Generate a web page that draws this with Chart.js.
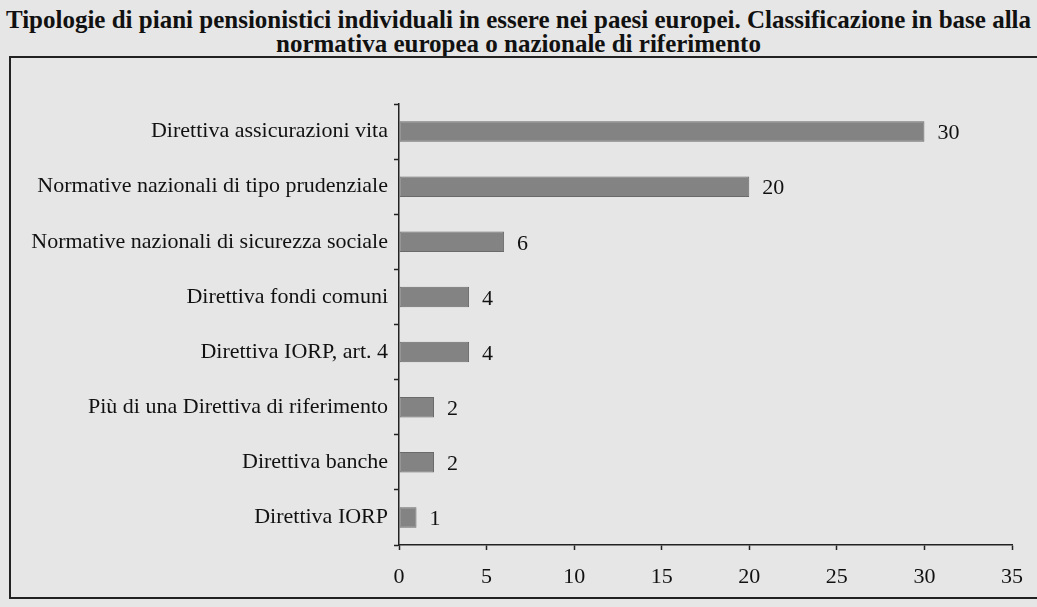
<!DOCTYPE html>
<html>
<head>
<meta charset="utf-8">
<script src="https://cdn.jsdelivr.net/npm/chart.js@4"></script>
<style>
  html, body { margin: 0; padding: 0; }
  body { width: 1037px; height: 607px; background: #e6e6e6; position: relative; overflow: hidden; font-family: "Liberation Serif", serif; }
  #title { position: absolute; left: 0; top: 8px; width: 1037px; text-align: center; font-weight: bold; font-size: 25px; line-height: 24px; color: #111; }
  #box { position: absolute; left: 9px; top: 56px; width: 1040px; height: 539px; border: 2px solid #222; }
  #wrap { position: absolute; left: 0; top: 0; width: 1037px; height: 607px; }
</style>
</head>
<body>
<div id="title">Tipologie di piani pensionistici individuali in essere nei paesi europei. Classificazione in base alla<br>normativa europea o nazionale di riferimento</div>
<div id="box"></div>
<div id="wrap"><canvas id="chart"></canvas></div>
<script>
const categories = [
  'Direttiva assicurazioni vita',
  'Normative nazionali di tipo prudenziale',
  'Normative nazionali di sicurezza sociale',
  'Direttiva fondi comuni',
  'Direttiva IORP, art. 4',
  'Più di una Direttiva di riferimento',
  'Direttiva banche',
  'Direttiva IORP'
];
const values = [30, 20, 6, 4, 4, 2, 2, 1];
const xTicks = [0, 5, 10, 15, 20, 25, 30, 35];

// etichette con il valore a destra di ogni barra
const valueLabels = {
  id: 'valueLabels',
  afterDatasetsDraw(chart) {
    const ctx = chart.ctx;
    const meta = chart.getDatasetMeta(0);
    ctx.save();
    ctx.font = '22px "Liberation Serif"';
    ctx.fillStyle = '#111';
    ctx.textBaseline = 'middle';
    meta.data.forEach((bar, i) => {
      ctx.fillText(values[i], bar.x + 13, bar.y + 2);
    });
    ctx.restore();
  }
};

const ctx = document.getElementById('chart').getContext('2d');
new Chart(ctx, {
  type: 'bar',
  data: {
    labels: categories,
    datasets: [{
      data: values,
      backgroundColor: '#838383',
      borderColor: '#6a6a6a',
      borderWidth: 1,
      borderSkipped: false,
      categoryPercentage: 1,
      barPercentage: 0.37
    }]
  },
  options: {
    indexAxis: 'y',
    responsive: true,
    maintainAspectRatio: false,
    animation: false,
    layout: { padding: { left: 0, right: 19, top: 104, bottom: 17 } },
    plugins: { legend: { display: false }, tooltip: { enabled: false } },
    scales: {
      x: {
        min: 0,
        max: 35,
        afterBuildTicks: s => { s.ticks = xTicks.map(v => ({ value: v })); },
        afterFit: s => { s.height = 45; },
        grid: { drawOnChartArea: false, tickLength: 5, color: '#222', tickWidth: 1.5 },
        border: { color: '#222', width: 1.5 },
        ticks: { color: '#111', padding: 14, maxRotation: 0, font: { family: '"Liberation Serif"', size: 22 } }
      },
      y: {
        afterFit: s => { s.width = 399; },
        grid: { drawOnChartArea: false, offset: true, tickLength: 5, color: '#222', tickWidth: 1.5 },
        border: { color: '#222', width: 1.5 },
        ticks: { color: '#111', padding: 6, font: { family: '"Liberation Serif"', size: 22 } }
      }
    }
  },
  plugins: [valueLabels]
});
</script>
</body>
</html>
